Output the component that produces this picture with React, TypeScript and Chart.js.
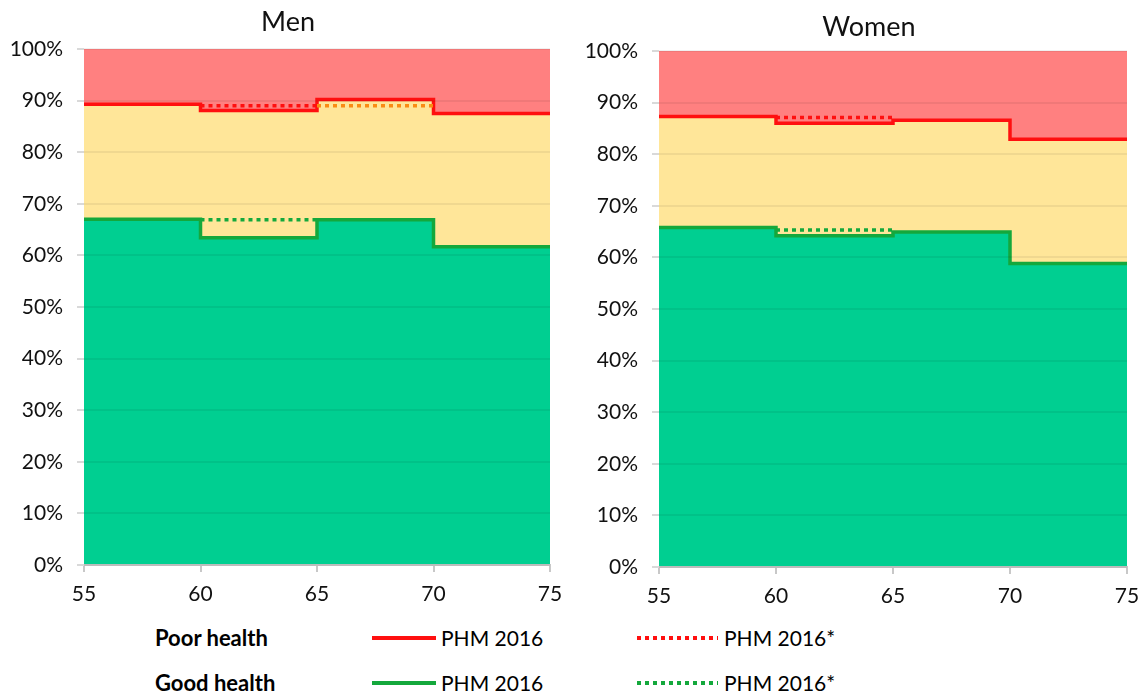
import React, { useEffect, useRef } from "react";
import { Chart, registerables } from "chart.js";

Chart.register(...registerables);

// Age boundaries (x axis) and values per 5-year interval
const ages = [55, 60, 65, 70, 75];

const menGood = [67.0, 63.4, 66.9, 61.7];
const menGoodAlt = [null, 66.9, null, null];
const menPoor = [89.3, 88.1, 90.2, 87.5];
const menPoorAlt = [null, 89.0, 89.0, null];

const womenGood = [65.8, 64.2, 64.9, 58.8];
const womenGoodAlt = [null, 65.3, null, null];
const womenPoor = [87.3, 86.0, 86.6, 82.9];
const womenPoorAlt = [null, 87.1, null, null];

const yTicks = [0, 10, 20, 30, 40, 50, 60, 70, 80, 90, 100];

const FONT = "Lato, 'Open Sans', sans-serif";
const RED = "#FF0F0F";
const ORANGE = "#FA8C14";
const GREEN = "#14A83C";
const PINK_FILL = "#FF8080";
const YELLOW_FILL = "#FFE699";
const GREEN_FILL = "#00CF91";

type Pt = { x: number; y: number | null };

function stepPoints(values: (number | null)[]): Pt[] {
  const pts: Pt[] = [];
  for (let i = 0; i < values.length; i++) {
    const v = values[i];
    if (v == null) {
      pts.push({ x: ages[i], y: null });
      continue;
    }
    pts.push({ x: ages[i], y: v });
    const next = i + 1 < values.length ? values[i + 1] : null;
    if (next == null) pts.push({ x: ages[i + 1], y: v });
  }
  return pts;
}

const yellowBg = {
  id: "yellowBg",
  beforeDatasetsDraw(chart: any) {
    const { ctx, chartArea } = chart;
    ctx.save();
    ctx.fillStyle = YELLOW_FILL;
    ctx.fillRect(chartArea.left, chartArea.top, chartArea.right - chartArea.left, chartArea.bottom - chartArea.top);
    ctx.restore();
  },
};

const panelTitle = {
  id: "panelTitle",
  afterDraw(chart: any, _args: any, opts: any) {
    const { ctx } = chart;
    ctx.save();
    ctx.font = `normal ${opts.size}px ${FONT}`;
    ctx.fillStyle = "#111";
    ctx.textAlign = "center";
    ctx.textBaseline = "alphabetic";
    ctx.fillText(opts.text, opts.x, opts.baseline);
    ctx.restore();
  },
};

function makeConfig(
  title: string,
  good: number[],
  goodAlt: (number | null)[],
  poor: number[],
  poorAlt: (number | null)[],
  padRight: number,
  padTop: number,
  titleX: number,
  titleBaseline: number
): any {
  return {
    type: "line",
    data: {
      datasets: [
        {
          label: "PHM 2016* poor",
          data: stepPoints(poorAlt),
          stepped: "before",
          borderColor: RED,
          borderWidth: 3.5,
          borderDash: [4, 4],
          pointRadius: 0,
          fill: false,
          spanGaps: false,
          segment: {
            borderColor: (ctx: any) => {
              const idx = ages.indexOf(ctx.p0.parsed.x);
              if (idx >= 0 && poorAlt[idx] != null && (poorAlt[idx] as number) < poor[idx]) return ORANGE;
              return RED;
            },
          },
        },
        {
          label: "PHM 2016* good",
          data: stepPoints(goodAlt),
          stepped: "before",
          borderColor: GREEN,
          borderWidth: 3.5,
          borderDash: [4, 4],
          pointRadius: 0,
          fill: false,
          spanGaps: false,
        },
        {
          label: "PHM 2016 poor",
          data: stepPoints(poor),
          stepped: "before",
          borderColor: RED,
          borderWidth: 3.5,
          pointRadius: 0,
          fill: "end",
          backgroundColor: PINK_FILL,
        },
        {
          label: "PHM 2016 good",
          data: stepPoints(good),
          stepped: "before",
          borderColor: GREEN,
          borderWidth: 3.5,
          pointRadius: 0,
          fill: "origin",
          backgroundColor: GREEN_FILL,
        },
      ],
    },
    options: {
      animation: false,
      responsive: false,
      devicePixelRatio: 1,
      layout: { padding: { left: 0, right: padRight, top: padTop, bottom: 15 } },
      plugins: {
        legend: { display: false },
        tooltip: { enabled: false },
        title: { display: false },
        panelTitle: { text: title, x: titleX, baseline: titleBaseline, size: 27 },
      },
      scales: {
        x: {
          type: "linear",
          min: ages[0],
          max: ages[ages.length - 1],
          z: 1,
          afterFit: (s: any) => {
            s.height = 40;
            s.paddingLeft = 0;
            s.paddingRight = 0;
          },
          ticks: {
            stepSize: 5,
            color: "#111",
            padding: 10,
            font: { family: FONT, size: 21 },
            callback: (v: any) => String(v),
          },
          grid: {
            drawOnChartArea: false,
            drawTicks: true,
            tickLength: 7,
            tickColor: "#C8C8C8",
            lineWidth: 2,
            z: 1,
          },
          border: { display: true, color: "#C8C8C8", width: 2, z: 1 },
        },
        y: {
          type: "linear",
          min: 0,
          max: 100,
          z: 1,
          afterFit: (s: any) => {
            s.width = 84;
          },
          afterBuildTicks: (s: any) => {
            s.ticks = yTicks.map((v) => ({ value: v }));
          },
          ticks: {
            color: "#111",
            padding: 14,
            font: { family: FONT, size: 21 },
            callback: (v: any) => v + "%",
          },
          grid: {
            color: "rgba(0,0,0,0.06)",
            lineWidth: 2,
            tickLength: 7,
            tickColor: "#D9D9D9",
            z: 1,
          },
          border: { display: false },
        },
      },
    },
    plugins: [yellowBg, panelTitle],
  };
}

function ChartCanvas(props: { config: any; width: number; height: number; left: number; top: number }) {
  const ref = useRef<HTMLCanvasElement | null>(null);
  useEffect(() => {
    if (!ref.current) return;
    const chart = new Chart(ref.current, props.config);
    return () => chart.destroy();
  }, []);
  return (
    <canvas
      ref={ref}
      width={props.width}
      height={props.height}
      style={{ position: "absolute", left: props.left, top: props.top, width: props.width, height: props.height }}
    />
  );
}

const legendText: React.CSSProperties = {
  position: "absolute",
  fontFamily: FONT,
  fontSize: 21,
  lineHeight: "24px",
  color: "#000",
  whiteSpace: "nowrap",
};

function solidLine(color: string, left: number, y: number, width: number): React.CSSProperties {
  return { position: "absolute", left, top: y - 2, width, height: 4, background: color };
}
function dottedLine(color: string, left: number, y: number, width: number): React.CSSProperties {
  return {
    position: "absolute",
    left,
    top: y - 2,
    width,
    height: 4,
    background: `repeating-linear-gradient(to right, ${color} 0px, ${color} 4px, transparent 4px, transparent 8px)`,
  };
}

export default function App() {
  const menConfig = makeConfig("Men", menGood, menGoodAlt, menPoor, menPoorAlt, 25, 49, 288, 31);
  const womenConfig = makeConfig("Women", womenGood, womenGoodAlt, womenPoor, womenPoorAlt, 16, 51, 294, 36);
  return (
    <div style={{ position: "absolute", left: 0, top: 0, width: 1143, height: 697, background: "#fff", overflow: "hidden" }}>
      <ChartCanvas config={menConfig} width={575} height={620} left={0} top={0} />
      <ChartCanvas config={womenConfig} width={568} height={622} left={575} top={0} />

      <div style={{ ...legendText, left: 155, top: 626, fontWeight: "bold", fontSize: 22 }}>Poor health</div>
      <div style={solidLine(RED, 372, 638, 64)} />
      <div style={{ ...legendText, left: 441, top: 626 }}>PHM 2016</div>
      <div style={dottedLine(RED, 637, 638, 81)} />
      <div style={{ ...legendText, left: 724, top: 626 }}>PHM 2016*</div>

      <div style={{ ...legendText, left: 155, top: 671, fontWeight: "bold", fontSize: 22 }}>Good health</div>
      <div style={solidLine(GREEN, 372, 683, 64)} />
      <div style={{ ...legendText, left: 441, top: 671 }}>PHM 2016</div>
      <div style={dottedLine(GREEN, 637, 683, 81)} />
      <div style={{ ...legendText, left: 724, top: 671 }}>PHM 2016*</div>
    </div>
  );
}
